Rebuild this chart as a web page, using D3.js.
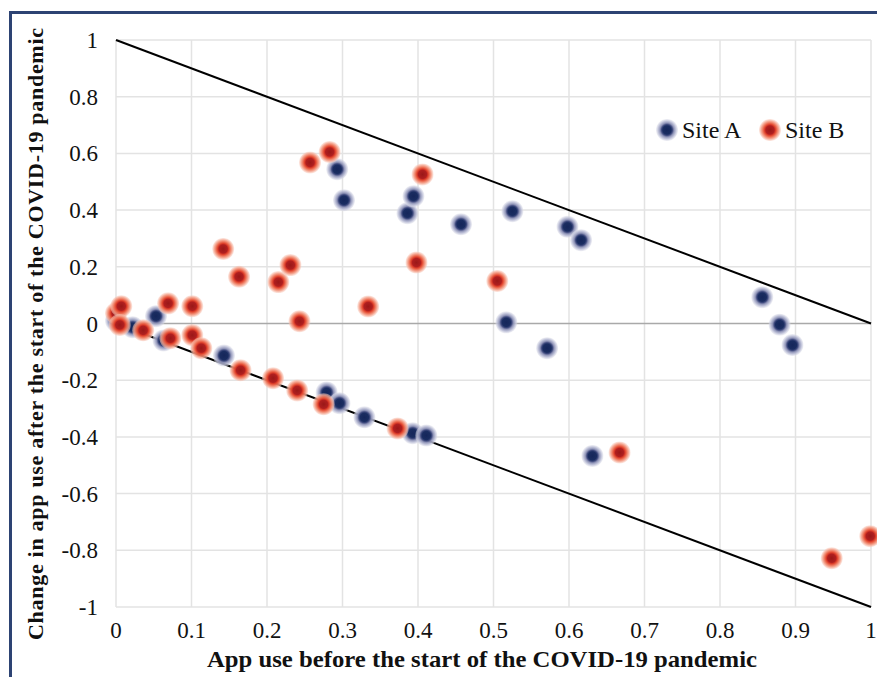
<!DOCTYPE html>
<html>
<head>
<meta charset="utf-8">
<script src="https://cdn.jsdelivr.net/npm/d3@7"></script>
<style>
  html, body { margin: 0; padding: 0; background: #ffffff; }
  svg { display: block; }
  text { font-family: "Liberation Serif", "Times New Roman", serif; fill: #111; }
</style>
</head>
<body>
<svg id="chart" width="877" height="677"></svg>
<script>
// ---------- DATA ----------
const xTicks = [0, 0.1, 0.2, 0.3, 0.4, 0.5, 0.6, 0.7, 0.8, 0.9, 1];
const xTickLabels = ["0", "0.1", "0.2", "0.3", "0.4", "0.5", "0.6", "0.7", "0.8", "0.9", "1"];
const yTicks = [1, 0.8, 0.6, 0.4, 0.2, 0, -0.2, -0.4, -0.6, -0.8, -1];
const yTickLabels = ["1", "0.8", "0.6", "0.4", "0.2", "0", "-0.2", "-0.4", "-0.6", "-0.8", "-1"];

const seriesNames = ["Site A", "Site B"];

const siteA_x = [0.053, 0.293, 0.302, 0.386, 0.394, 0.457, 0.525, 0.598, 0.616, 0.517, 0.571, 0.631,
                 0.856, 0.879, 0.896, 0.0, 0.022, 0.063, 0.143, 0.279, 0.296, 0.329, 0.393, 0.411];
const siteA_y = [0.026, 0.544, 0.435, 0.389, 0.449, 0.35, 0.396, 0.341, 0.294, 0.004, -0.087, -0.467,
                 0.093, -0.004, -0.076, 0.01, -0.013, -0.06, -0.113, -0.243, -0.281, -0.331, -0.387, -0.395];

const siteB_x = [0.0, 0.007, 0.005, 0.036, 0.069, 0.072, 0.101, 0.101, 0.113, 0.142, 0.163, 0.165,
                 0.208, 0.215, 0.231, 0.240, 0.243, 0.257, 0.275, 0.283, 0.334, 0.373, 0.398, 0.406,
                 0.505, 0.667, 0.948, 0.999];
const siteB_y = [0.036, 0.061, -0.005, -0.024, 0.071, -0.052, 0.061, -0.041, -0.087, 0.263, 0.165, -0.165,
                 -0.193, 0.146, 0.206, -0.236, 0.008, 0.568, -0.285, 0.605, 0.06, -0.37, 0.215, 0.526,
                 0.15, -0.455, -0.828, -0.75];

// reference lines: upper bound y = 1 - x, lower bound y = -x
const boundUpper = [[0, 1], [1, 0]];
const boundLower = [[0, 0], [1, -1]];

const xTitle = "App use before the start of the COVID-19 pandemic";
const yTitle = "Change in app use after the start of the COVID-19 pandemic";

// ---------- LAYOUT ----------
const svg = d3.select("#chart");
const plot = { left: 116, right: 871, top: 40, bottom: 607 };

const x = d3.scaleLinear().domain([0, 1]).range([plot.left, plot.right]);
const y = d3.scaleLinear().domain([-1, 1]).range([plot.bottom, plot.top]);

// frame
svg.append("rect")
  .attr("x", 10.5).attr("y", 12.5)
  .attr("width", 900).attr("height", 700)
  .attr("fill", "none")
  .attr("stroke", "#2d4373")
  .attr("stroke-width", 3);

// gradients for glow markers
const defs = svg.append("defs");
const gradA = defs.append("radialGradient").attr("id", "gA");
[[0, "#15265a", 1], [0.38, "#1a2d61", 1], [0.5, "#3f4a7e", 1], [0.64, "#8a8fb4", 0.95],
 [0.82, "#b9bcd5", 0.85], [1, "#dcdde9", 0.45]].forEach(s =>
  gradA.append("stop").attr("offset", s[0]).attr("stop-color", s[1]).attr("stop-opacity", s[2]));
const gradB = defs.append("radialGradient").attr("id", "gB");
[[0, "#9a1818", 1], [0.38, "#b01f1f", 1], [0.5, "#de3f2a", 1], [0.64, "#ec6a4e", 0.95],
 [0.82, "#f4a18a", 0.85], [1, "#f9cdbf", 0.45]].forEach(s =>
  gradB.append("stop").attr("offset", s[0]).attr("stop-color", s[1]).attr("stop-opacity", s[2]));

// gridlines
const grid = svg.append("g");
grid.selectAll("line.vx").data(xTicks).join("line")
  .attr("x1", d => x(d)).attr("x2", d => x(d))
  .attr("y1", plot.top).attr("y2", plot.bottom)
  .attr("stroke", "#e3e3e3").attr("stroke-width", 1.5);
grid.selectAll("line.hy").data(yTicks.filter(d => d !== 0)).join("line")
  .attr("x1", plot.left).attr("x2", plot.right)
  .attr("y1", d => y(d)).attr("y2", d => y(d))
  .attr("stroke", "#e3e3e3").attr("stroke-width", 1.5);

// zero line
svg.append("line")
  .attr("x1", x(0)).attr("x2", x(1))
  .attr("y1", y(0)).attr("y2", y(0))
  .attr("stroke", "#a9a9a9").attr("stroke-width", 1.6);

// tick labels
svg.append("g").selectAll("text").data(yTicks).join("text")
  .attr("x", 98).attr("y", d => y(d))
  .attr("dy", "0.35em")
  .attr("text-anchor", "end")
  .style("font-size", "23px")
  .text((d, i) => yTickLabels[i]);

svg.append("g").selectAll("text").data(xTicks).join("text")
  .attr("x", d => x(d)).attr("y", 638)
  .attr("text-anchor", "middle")
  .style("font-size", "23px")
  .text((d, i) => xTickLabels[i]);

// bound lines
const lineGen = d3.line().x(d => x(d[0])).y(d => y(d[1]));
[boundUpper, boundLower].forEach(b =>
  svg.append("path").attr("d", lineGen(b))
    .attr("fill", "none").attr("stroke", "#000").attr("stroke-width", 2));

// points
const R = 11;
const ptsA = siteA_x.map((v, i) => [v, siteA_y[i]]);
const ptsB = siteB_x.map((v, i) => [v, siteB_y[i]]);
svg.append("g").selectAll("circle").data(ptsA).join("circle")
  .attr("cx", d => x(d[0])).attr("cy", d => y(d[1])).attr("r", R)
  .attr("fill", "url(#gA)");
svg.append("g").selectAll("circle").data(ptsB).join("circle")
  .attr("cx", d => x(d[0])).attr("cy", d => y(d[1])).attr("r", R)
  .attr("fill", "url(#gB)");

// legend
const leg = svg.append("g");
[["url(#gA)", 667, seriesNames[0]], ["url(#gB)", 770, seriesNames[1]]].forEach(l => {
  leg.append("circle").attr("cx", l[1]).attr("cy", 130).attr("r", R).attr("fill", l[0]);
  leg.append("text").attr("x", l[1] + 15).attr("y", 138)
    .style("font-size", "24px").text(l[2]);
});

// axis titles
svg.append("text")
  .attr("x", 482).attr("y", 667)
  .attr("text-anchor", "middle")
  .style("font-size", "23px").style("font-weight", "bold")
  .attr("textLength", 550).attr("lengthAdjust", "spacingAndGlyphs")
  .text(xTitle);

svg.append("text")
  .attr("transform", "translate(43,334) rotate(-90)")
  .attr("text-anchor", "middle")
  .style("font-size", "22px").style("font-weight", "bold")
  .attr("textLength", 612).attr("lengthAdjust", "spacing")
  .text(yTitle);
</script>
</body>
</html>
